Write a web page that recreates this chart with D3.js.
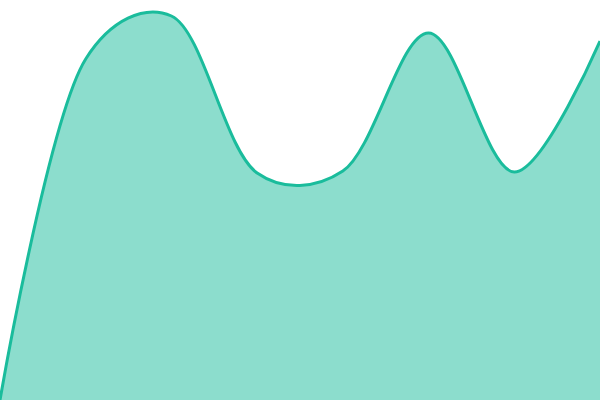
<!DOCTYPE html>
<html>
<head>
<meta charset="utf-8">
<script src="https://cdn.jsdelivr.net/npm/d3@7"></script>
<style>
  html, body { margin: 0; padding: 0; background: #ffffff; }
  svg { display: block; }
</style>
</head>
<body>
<div id="chart"></div>
<script>
// area values, one per evenly spaced step
const STEPS = [0, 1, 2, 3, 4, 5, 6, 7];
const VALUES = [0, 85.25, 96, 56.75, 57.25, 91.75, 57, 89.75];

const COLOR = "#1abc9c";

const width = 600;
const height = 400;

const svg = d3.select("#chart").append("svg")
  .attr("width", width)
  .attr("height", height);

const x = d3.scaleLinear().domain(d3.extent(STEPS)).range([0, width]);
const y = d3.scaleLinear().domain([0, 100]).range([height, 0]);

const rows = STEPS.map((s, i) => ({ step: s, value: VALUES[i] }));

const curve = d3.curveCatmullRom.alpha(0.3);

const area = d3.area()
  .x(d => x(d.step))
  .y0(y(0))
  .y1(d => y(d.value))
  .curve(curve);

const line = d3.line()
  .x(d => x(d.step))
  .y(d => y(d.value))
  .curve(curve);

svg.append("path")
  .datum(rows)
  .attr("d", area)
  .attr("fill", COLOR)
  .attr("fill-opacity", 0.5);

svg.append("path")
  .datum(rows)
  .attr("d", line)
  .attr("fill", "none")
  .attr("stroke", COLOR)
  .attr("stroke-width", 3);
</script>
</body>
</html>
